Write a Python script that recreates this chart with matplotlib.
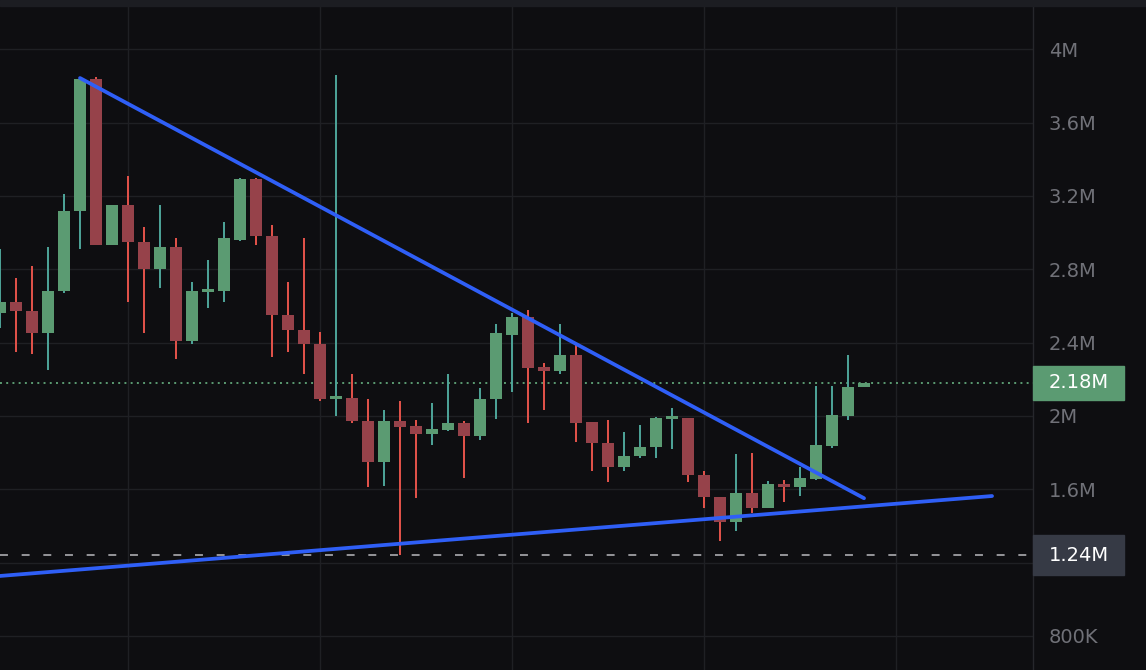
import matplotlib
matplotlib.use("Agg")
import matplotlib.pyplot as plt
import matplotlib.transforms as mtransforms
from matplotlib.patches import Rectangle

# ---------------- data (values in millions) ----------------
opens = [2.56, 2.62, 2.57, 2.45, 2.68, 3.12, 3.84, 2.93, 3.15, 2.95,
         2.80, 2.92, 2.41, 2.68, 2.68, 2.96, 3.29, 2.98, 2.55, 2.47,
         2.39, 2.10, 2.10, 1.97, 1.75, 1.97, 1.945, 1.90, 1.925, 1.96,
         1.89, 2.09, 2.44, 2.54, 2.265, 2.245, 2.33, 1.965, 1.85, 1.72,
         1.78, 1.83, 1.99, 1.99, 1.68, 1.555, 1.42, 1.58, 1.50, 1.63,
         1.61, 1.655, 1.835, 2.00, 2.155]
highs = [2.91, 2.75, 2.82, 2.92, 3.21, 3.85, 3.85, 3.15, 3.31, 3.03,
         3.15, 2.97, 2.73, 2.85, 3.06, 3.30, 3.30, 3.04, 2.73, 2.97,
         2.46, 3.86, 2.23, 2.09, 2.03, 2.08, 1.98, 2.07, 2.23, 1.97,
         2.15, 2.50, 2.56, 2.58, 2.29, 2.50, 2.39, 1.967, 1.98, 1.91,
         1.95, 1.995, 2.045, 1.99, 1.70, 1.56, 1.79, 1.80, 1.645, 1.65,
         1.72, 2.165, 2.165, 2.33, 2.18]
lows = [2.48, 2.35, 2.34, 2.25, 2.67, 2.91, 2.93, 2.93, 2.62, 2.45,
        2.70, 2.31, 2.39, 2.59, 2.62, 2.955, 2.93, 2.32, 2.35, 2.23,
        2.08, 2.00, 1.96, 1.61, 1.62, 1.24, 1.55, 1.84, 1.92, 1.66,
        1.87, 1.985, 2.13, 1.96, 2.03, 2.23, 1.86, 1.70, 1.64, 1.70,
        1.77, 1.77, 1.82, 1.64, 1.50, 1.32, 1.37, 1.47, 1.50, 1.53,
        1.565, 1.65, 1.825, 1.98, 2.155]
closes = [2.62, 2.57, 2.45, 2.68, 3.12, 3.84, 2.93, 3.15, 2.95, 2.80,
          2.92, 2.41, 2.68, 2.685, 2.97, 3.29, 2.98, 2.55, 2.47, 2.39,
          2.09, 2.105, 1.97, 1.75, 1.97, 1.94, 1.90, 1.93, 1.96, 1.89,
          2.09, 2.45, 2.54, 2.26, 2.245, 2.33, 1.96, 1.85, 1.72, 1.78,
          1.83, 1.99, 1.993, 1.68, 1.555, 1.42, 1.58, 1.50, 1.63, 1.61,
          1.66, 1.84, 2.005, 2.16, 2.18]

upper_trend_x = [5, 54]
upper_trend_y = [3.843, 1.551]
lower_trend_x = [0, 62]
lower_trend_y = [1.127, 1.563]

last_price = 2.18
last_price_label = "2.18M"
support_price = 1.24
support_label = "1.24M"

ytick_values = [0.8, 1.2, 1.6, 2.0, 2.4, 2.8, 3.2, 3.6, 4.0]
ytick_labels = ["800K", "", "1.6M", "2M", "2.4M", "2.8M", "3.2M", "3.6M", "4M"]
xgrid_positions = [8, 20, 32, 44, 56]

# ---------------- style ----------------
BG = "#0e0e11"
TOPBAND = "#1c1d22"
GRID = "#1f2024"
GREEN_BODY = "#5b9b72"
RED_BODY = "#96424a"
GREEN_WICK = "#4ea69a"
RED_WICK = "#e5534b"
BLUE = "#2f5ff7"
LABEL = "#707178"

W, H = 1146, 670
fig = plt.figure(figsize=(W / 100, H / 100), dpi=100, facecolor=BG)
ax = fig.add_axes([0, 0, 1033 / W, 664 / H])
ax.set_facecolor(BG)
fig.patches.append(Rectangle((0, 664 / H), 1, 6 / H, transform=fig.transFigure,
                             color=TOPBAND, zorder=0))

ax.set_xlim(0, 64.56)
ax.set_ylim(0.614, 4.236)

# grid
for yv in ytick_values:
    ax.axhline(yv, color=GRID, lw=1.0, zorder=0)
for xv in xgrid_positions:
    ax.axvline(xv, color=GRID, lw=1.0, zorder=0)

# candles
body_w = 0.75
min_body = 0.016
for i, (o, h, l, c) in enumerate(zip(opens, highs, lows, closes)):
    up = c >= o
    wick = GREEN_WICK if up else RED_WICK
    body = GREEN_BODY if up else RED_BODY
    if h > l:
        ax.vlines(i, l, h, color=wick, lw=1.4, zorder=2)
    bottom = min(o, c)
    height = max(abs(c - o), min_body)
    if abs(c - o) < min_body:
        bottom = (o + c) / 2 - min_body / 2
    ax.bar(i, height, bottom=bottom, width=body_w, color=body, zorder=3, linewidth=0)

# trend lines
ax.plot(upper_trend_x, upper_trend_y, color=BLUE, lw=2.7, solid_capstyle="round", zorder=4)
ax.plot(lower_trend_x, lower_trend_y, color=BLUE, lw=2.7, solid_capstyle="round", zorder=4)

# horizontal price lines
ax.axhline(last_price, color=GREEN_BODY, lw=1.4, linestyle=(0, (1.0, 2.2)), zorder=1)
ax.axhline(support_price, color="#a0a0a4", lw=1.3, linestyle=(0, (4.4, 7.6)), zorder=1)

# axis styling
for s in ["top", "left", "bottom"]:
    ax.spines[s].set_visible(False)
ax.spines["right"].set_color("#26272c")
ax.spines["right"].set_linewidth(1.0)
ax.set_xticks([])
ax.yaxis.tick_right()
ax.set_yticks(ytick_values)
ax.set_yticklabels(ytick_labels)
ax.tick_params(axis="y", length=0, pad=11.5, labelsize=14, labelcolor=LABEL)
for t in ax.get_yticklabels():
    t.set_horizontalalignment("left")

# price label boxes
blend = mtransforms.blended_transform_factory(ax.transAxes, ax.transData)
box_x0 = 1.0
box_w = (1124 - 1033) / 1033
txt_x = 1049 / 1033
ppx = 183.33  # pixels per unit (M)

ax.add_patch(Rectangle((box_x0, last_price - 17 / ppx), box_w, 34 / ppx,
                       transform=blend, color=GREEN_BODY, clip_on=False, zorder=5))
ax.text(txt_x, last_price, last_price_label, transform=blend, color="white",
        fontsize=14, va="center", ha="left", zorder=6, clip_on=False)

ax.add_patch(Rectangle((box_x0, support_price - 20 / ppx), box_w, 40 / ppx,
                       transform=blend, color="#363a45", clip_on=False, zorder=5))
ax.text(txt_x, support_price, support_label, transform=blend, color="white",
        fontsize=14, va="center", ha="left", zorder=6, clip_on=False)

fig.savefig("out.png", dpi=100, facecolor=BG)
